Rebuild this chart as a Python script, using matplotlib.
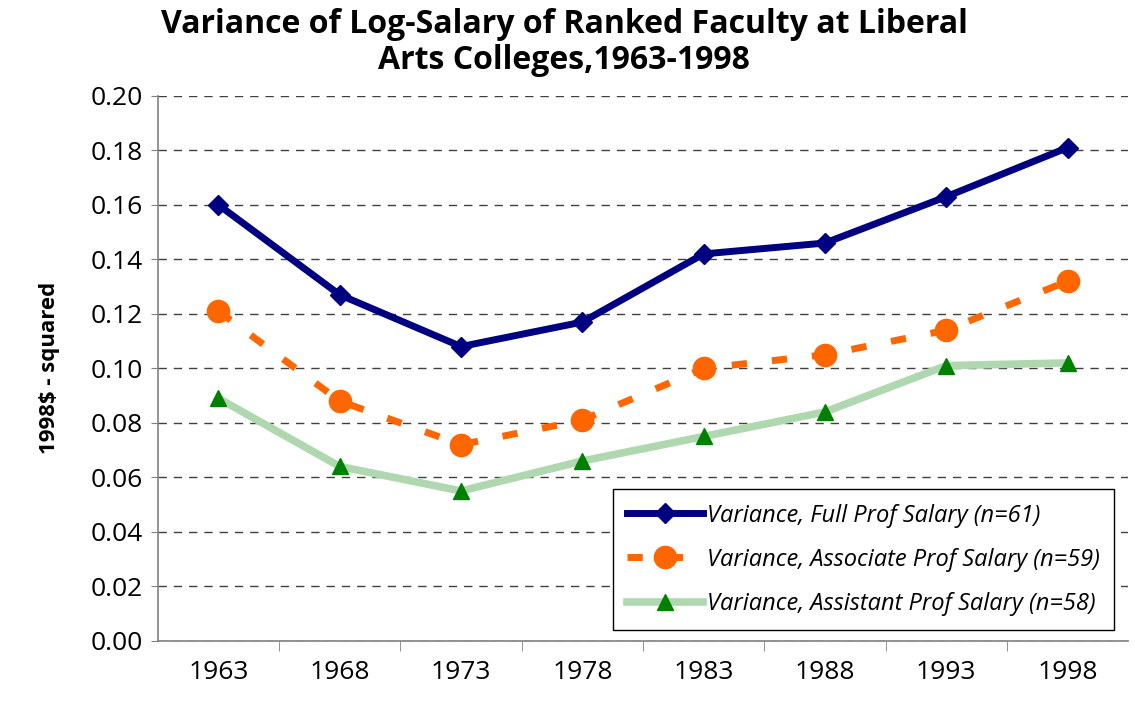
import numpy as np
import matplotlib.pyplot as plt

# data
years = ['1963', '1968', '1973', '1978', '1983', '1988', '1993', '1998']
full_prof = [0.160, 0.127, 0.108, 0.117, 0.142, 0.146, 0.163, 0.181]
assoc_prof = [0.121, 0.088, 0.072, 0.081, 0.100, 0.105, 0.114, 0.132]
asst_prof = [0.089, 0.064, 0.055, 0.066, 0.075, 0.084, 0.101, 0.102]

labels = ['Variance, Full Prof Salary (n=61)',
          'Variance, Associate Prof Salary (n=59)',
          'Variance, Assistant Prof Salary (n=58)']

plt.rcParams['font.family'] = ['Open Sans', 'DejaVu Sans']

fig = plt.figure(figsize=(11.35, 7.05), dpi=100)
ax = fig.add_axes([0.139, 0.091, 0.855, 0.773])

x = np.arange(len(years))

ax.plot(x, full_prof, color='#000080', lw=5, marker='D', ms=10,
        label=labels[0], zorder=4)
ax.plot(x, assoc_prof, color='#ff6600', lw=5, dashes=(2.2, 3.6),
        marker='o', ms=16, label=labels[1], zorder=3)
ax.plot(x, asst_prof, color='#b0d8b0', lw=5.5, marker='^', ms=12,
        mfc='#008000', mec='#008000', label=labels[2], zorder=2)

ax.set_xlim(-0.5, len(years) - 0.5)
ax.set_ylim(0, 0.20)
ax.set_yticks(np.arange(0, 0.201, 0.02))
ax.set_yticklabels(['%.2f' % v for v in np.arange(0, 0.201, 0.02)])
ax.set_xticks(x)
ax.set_xticklabels(years)
ax.set_xticks(np.arange(0.5, len(years) - 0.5, 1), minor=True)

ax.tick_params(axis='x', which='major', length=0, labelsize=19, pad=14)
ax.tick_params(axis='x', which='minor', length=7, color='#808080')
ax.tick_params(axis='y', length=5, color='#808080', labelsize=19, pad=6)

ax.yaxis.grid(True, linestyle=(0, (6, 5)), color='#404040', lw=1)
ax.set_axisbelow(True)
for s in ['top', 'right']:
    ax.spines[s].set_visible(False)
for s in ['left', 'bottom']:
    ax.spines[s].set_color('#808080')
    ax.spines[s].set_linewidth(1.2)

ax.set_ylabel('1998$ - squared', fontsize=16, fontweight='bold', labelpad=22)

fig.suptitle('Variance of Log-Salary of Ranked Faculty at Liberal\nArts Colleges,1963-1998',
             fontsize=23, fontweight='bold', x=0.497, y=0.988, linespacing=1.1)

leg = ax.legend(loc='lower right', bbox_to_anchor=(0.985, 0.02),
                prop={'style': 'italic', 'size': 17}, fancybox=False,
                edgecolor='black', framealpha=1, borderpad=0.6,
                borderaxespad=0, labelspacing=0.85, handlelength=3.2,
                handletextpad=0.15)
leg.get_frame().set_linewidth(1)

plt.savefig('out.png', dpi=100)
